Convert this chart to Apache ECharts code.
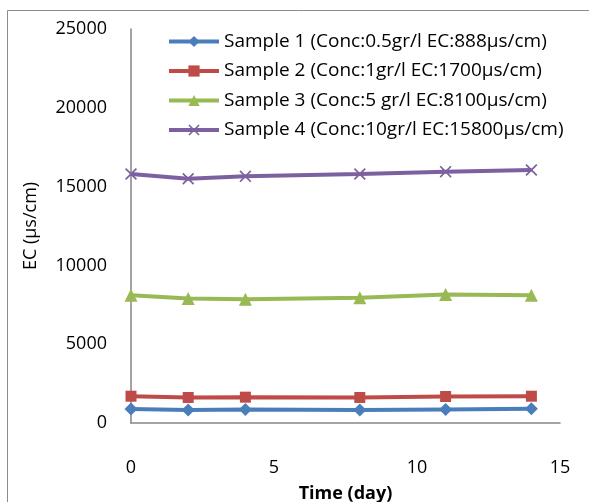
<!DOCTYPE html>
<html>
<head>
<meta charset="utf-8">
<script src="https://cdn.jsdelivr.net/npm/echarts@6/dist/echarts.min.js"></script>
<style>
  html, body { margin: 0; padding: 0; background: #fff; }
  #chart { width: 589px; height: 502px; }
</style>
</head>
<body>
<div id="chart"></div>
<script>
// sampling days
const days = [0, 2, 4, 8, 11, 14]

const sample1 = [888, 820, 860, 820, 860, 900]
const sample2 = [1700, 1620, 1640, 1620, 1680, 1700]
const sample3 = [8100, 7900, 7850, 7950, 8150, 8100]
const sample4 = [15800, 15500, 15650, 15800, 15950, 16050]

const seriesNames = [
  'Sample 1 (Conc:0.5gr/l EC:888µs/cm)',
  'Sample 2 (Conc:1gr/l EC:1700µs/cm)',
  'Sample 3 (Conc:5 gr/l EC:8100µs/cm)',
  'Sample 4 (Conc:10gr/l EC:15800µs/cm)'
]
const colors = ['#4a7ebb', '#be4b48', '#98b954', '#7d60a0']
const symbols = [
  'diamond',
  'rect',
  'triangle',
  'path://M0,1L1,0L5,4L9,0L10,1L6,5L10,9L9,10L5,6L1,10L0,9L4,5Z'
]
const symbolSizes = [13, 11, 13, 12]

const xTicks = { min: 0, max: 15, interval: 5 }
const yTicks = { min: 0, max: 25000, interval: 5000 }

const font = 'Open Sans'

function pairs(vals) {
  return days.map((d, i) => [d, vals[i]])
}

const allValues = [sample1, sample2, sample3, sample4]

const chart = echarts.init(document.getElementById('chart'))
chart.setOption({
  animation: false,
  color: colors,
  textStyle: { fontFamily: font },
  graphic: [{
    type: 'rect',
    shape: { x: 7.5, y: 10.5, width: 700, height: 700 },
    style: { fill: 'none', stroke: '#8c8c8c', lineWidth: 1 },
    silent: true,
    z: -1
  }],
  grid: { left: 131, top: 29, right: 29, bottom: 79, outerBoundsMode: 'none', containLabel: false },
  legend: {
    orient: 'vertical',
    left: 162,
    top: 27,
    itemWidth: 50,
    itemHeight: 14,
    itemGap: 10.5,
    lineStyle: { width: 4 },
    textStyle: { fontSize: 19, color: '#000', fontFamily: font },
    data: seriesNames
  },
  xAxis: {
    type: 'value',
    min: xTicks.min,
    max: xTicks.max,
    interval: xTicks.interval,
    name: 'Time (day)',
    nameLocation: 'middle',
    nameGap: 62,
    nameTextStyle: { fontSize: 18, fontWeight: 'bold', color: '#000' },
    axisLine: { lineStyle: { color: '#868686', width: 1.5 } },
    axisTick: { show: false },
    splitLine: { show: false },
    axisLabel: { fontSize: 18, color: '#000', margin: 36 }
  },
  yAxis: {
    type: 'value',
    min: yTicks.min,
    max: yTicks.max,
    interval: yTicks.interval,
    name: 'EC (µs/cm)',
    nameLocation: 'middle',
    nameGap: 91,
    nameTextStyle: { fontSize: 18, color: '#000' },
    axisLine: { show: true, lineStyle: { color: '#868686', width: 1.5 } },
    axisTick: { show: false },
    splitLine: { show: false },
    axisLabel: { fontSize: 18, color: '#000', margin: 24, formatter: v => String(v) }
  },
  series: allValues.map((vals, i) => ({
    name: seriesNames[i],
    type: 'line',
    data: pairs(vals),
    symbol: symbols[i],
    symbolSize: symbolSizes[i],
    showAllSymbol: true,
    lineStyle: { width: 4, color: colors[i] },
    itemStyle: { color: colors[i] }
  }))
})
</script>
</body>
</html>
